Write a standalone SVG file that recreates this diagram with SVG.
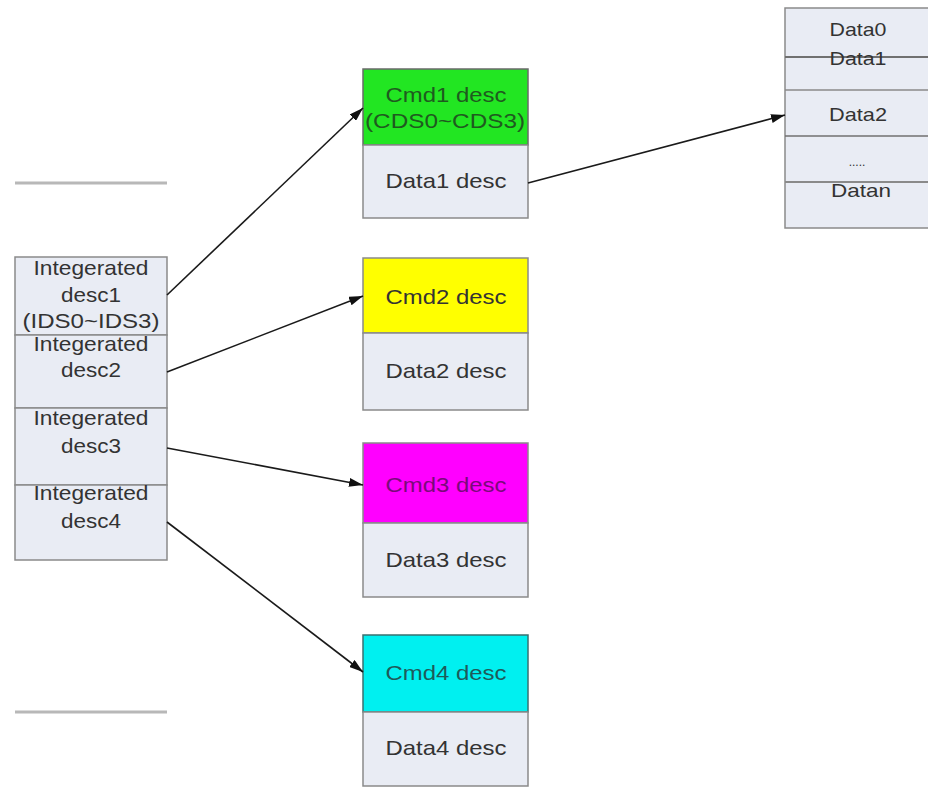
<svg xmlns="http://www.w3.org/2000/svg" width="928" height="787" viewBox="0 0 928 787">
  <style>
    .cell { fill: #e9ecf4; stroke: #8a8a8a; stroke-width: 1.5; }
    .t { font-family: "Liberation Sans", Arial, sans-serif; font-size: 21px; fill: #333333; text-anchor: middle; }
    .s { font-size: 19px; }
    .sep { stroke: #b8b8b8; stroke-width: 3; }
    .conn { stroke: #1a1a1a; stroke-width: 1.6; fill: none; marker-end: url(#arrow); }
  </style>
  <defs>
    <marker id="arrow" viewBox="0 0 10 10" refX="10" refY="5" markerWidth="14" markerHeight="9" markerUnits="userSpaceOnUse" orient="auto" preserveAspectRatio="none">
      <path d="M0,0 L10,5 L0,10 z" fill="#111"/>
    </marker>
  </defs>
  <rect width="928" height="787" fill="#ffffff"/>

  <!-- separator lines -->
  <line class="sep" x1="15" y1="183" x2="167" y2="183"/>
  <line class="sep" x1="15" y1="712" x2="167" y2="712"/>

  <!-- integrated descriptor stack -->
  <g id="integrated">
    <rect class="cell" x="15" y="257" width="152" height="78"/>
    <rect class="cell" x="15" y="335" width="152" height="73"/>
    <rect class="cell" x="15" y="408" width="152" height="77"/>
    <rect class="cell" x="15" y="485" width="152" height="75"/>
    <text class="t" x="91" y="275" textLength="115" lengthAdjust="spacingAndGlyphs">Integerated</text>
    <text class="t" x="91" y="302" textLength="60" lengthAdjust="spacingAndGlyphs">desc1</text>
    <text class="t" x="91" y="328" textLength="137" lengthAdjust="spacingAndGlyphs">(IDS0~IDS3)</text>
    <text class="t" x="91" y="351" textLength="115" lengthAdjust="spacingAndGlyphs">Integerated</text>
    <text class="t" x="91" y="377" textLength="60" lengthAdjust="spacingAndGlyphs">desc2</text>
    <text class="t" x="91" y="425" textLength="115" lengthAdjust="spacingAndGlyphs">Integerated</text>
    <text class="t" x="91" y="453" textLength="60" lengthAdjust="spacingAndGlyphs">desc3</text>
    <text class="t" x="91" y="500" textLength="115" lengthAdjust="spacingAndGlyphs">Integerated</text>
    <text class="t" x="91" y="528" textLength="60" lengthAdjust="spacingAndGlyphs">desc4</text>
  </g>

  <!-- command descriptor 1 -->
  <g id="cmd1">
    <rect x="363" y="69" width="165" height="76" fill="#22e622" stroke="#6a6a6a" stroke-width="1.5"/>
    <rect class="cell" x="363" y="145" width="165" height="73"/>
    <text class="t" x="446" y="102" style="fill:#1f5a1f" textLength="121" lengthAdjust="spacingAndGlyphs">Cmd1 desc</text>
    <text class="t" x="445" y="128" style="fill:#1f5a1f" textLength="160" lengthAdjust="spacingAndGlyphs">(CDS0~CDS3)</text>
    <text class="t" x="446" y="188" textLength="121" lengthAdjust="spacingAndGlyphs">Data1 desc</text>
  </g>

  <!-- command descriptor 2 -->
  <g id="cmd2">
    <rect x="363" y="258" width="165" height="75" fill="#ffff00" stroke="#8a8a8a" stroke-width="1.5"/>
    <rect class="cell" x="363" y="333" width="165" height="77"/>
    <text class="t" x="446" y="304" textLength="121" lengthAdjust="spacingAndGlyphs">Cmd2 desc</text>
    <text class="t" x="446" y="378" textLength="121" lengthAdjust="spacingAndGlyphs">Data2 desc</text>
  </g>

  <!-- command descriptor 3 -->
  <g id="cmd3">
    <rect x="363" y="443" width="165" height="80" fill="#ff00ff" stroke="#8a8a8a" stroke-width="1.5"/>
    <rect class="cell" x="363" y="523" width="165" height="74"/>
    <text class="t" x="446" y="492" style="fill:#7a0a7a" textLength="121" lengthAdjust="spacingAndGlyphs">Cmd3 desc</text>
    <text class="t" x="446" y="567" textLength="121" lengthAdjust="spacingAndGlyphs">Data3 desc</text>
  </g>

  <!-- command descriptor 4 -->
  <g id="cmd4">
    <rect x="363" y="635" width="165" height="77" fill="#00f0f0" stroke="#3a7070" stroke-width="1.5"/>
    <rect class="cell" x="363" y="712" width="165" height="74"/>
    <text class="t" x="446" y="680" style="fill:#1e5a5a" textLength="121" lengthAdjust="spacingAndGlyphs">Cmd4 desc</text>
    <text class="t" x="446" y="755" textLength="121" lengthAdjust="spacingAndGlyphs">Data4 desc</text>
  </g>

  <!-- data buffer list -->
  <g id="data">
    <rect class="cell" x="785" y="8" width="150" height="220"/>
    <line x1="785" y1="57" x2="928" y2="57" stroke="#707070" stroke-width="2"/>
    <line x1="785" y1="90" x2="928" y2="90" stroke="#8a8a8a" stroke-width="1.5"/>
    <line x1="785" y1="136" x2="928" y2="136" stroke="#707070" stroke-width="1.5"/>
    <line x1="785" y1="182" x2="928" y2="182" stroke="#8a8a8a" stroke-width="2"/>
    <text class="t s" x="858" y="36" textLength="57" lengthAdjust="spacingAndGlyphs">Data0</text>
    <text class="t s" x="858" y="65" textLength="57" lengthAdjust="spacingAndGlyphs">Data1</text>
    <text class="t s" x="858" y="121" textLength="58" lengthAdjust="spacingAndGlyphs">Data2</text>
    <text class="t" x="857" y="166" style="font-size:12px">.....</text>
    <text class="t s" x="861" y="197" textLength="60" lengthAdjust="spacingAndGlyphs">Datan</text>
  </g>

  <!-- connectors -->
  <g id="connectors">
    <line class="conn" x1="167" y1="295" x2="363" y2="108"/>
    <line class="conn" x1="167" y1="372" x2="363" y2="296"/>
    <line class="conn" x1="167" y1="448" x2="363" y2="485"/>
    <line class="conn" x1="167" y1="522" x2="363" y2="672"/>
    <line class="conn" x1="528" y1="183" x2="785" y2="115"/>
  </g>
</svg>
